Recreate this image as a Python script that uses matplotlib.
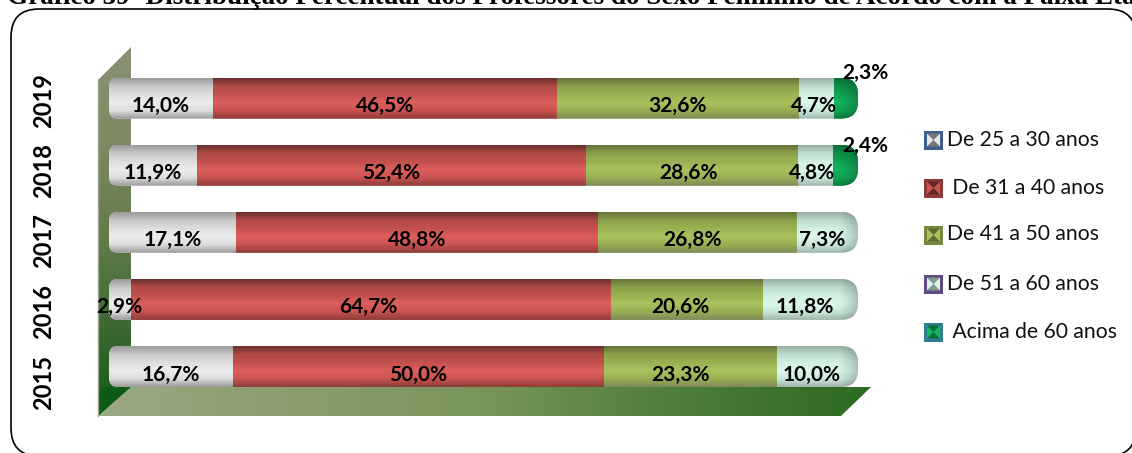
import numpy as np
import matplotlib
matplotlib.use('Agg')
import matplotlib.pyplot as plt
from matplotlib.colors import LinearSegmentedColormap
from matplotlib.patches import Polygon, FancyBboxPatch, Rectangle
from matplotlib.path import Path

title = 'Gráfico 39- Distribuição Percentual dos Professores do Sexo Feminino de Acordo com a Faixa Etária'
years = ['2015', '2016', '2017', '2018', '2019']
series_names = ['De 25 a 30 anos', ' De 31 a 40 anos', 'De 41 a 50 anos', 'De 51 a 60 anos', ' Acima de 60 anos']

age_25_30 = [16.7, 2.9, 17.1, 11.9, 14.0]
age_31_40 = [50.0, 64.7, 48.8, 52.4, 46.5]
age_41_50 = [23.3, 20.6, 26.8, 28.6, 32.6]
age_51_60 = [10.0, 11.8, 7.3, 4.8, 4.7]
age_60_up = [0, 0, 0, 2.4, 2.3]
series = [age_25_30, age_31_40, age_41_50, age_51_60, age_60_up]

# top to bottom colour stops of each 3d bar
bar_stops = [
    ['#999999', '#dcdcdc', '#ececec', '#dedede', '#c8c8c8', '#9a9a9a'],
    ['#8a3d3a', '#c9524f', '#dc5f5c', '#c2504d', '#b04a47', '#6a2f2d'],
    ['#7f8a5c', '#98ae52', '#a9c25f', '#9ab253', '#8ba04a', '#66723a'],
    ['#9fb3aa', '#c9e8da', '#dcf7ea', '#d3f0e3', '#bddccd', '#99ada3'],
    ['#0a7a3e', '#10a554', '#14b35e', '#10a554', '#0d9049', '#0a6f38'],
]
swatch_edge = ['#3d5f8f', '#8f3a38', '#76883c', '#5f4a86', '#2f7f90']
swatch_light = ['#e8e8e8', '#c9524f', '#a9c25f', '#d9f5e8', '#14b35e']
swatch_dark = ['#777777', '#5f2a28', '#5f6b36', '#7f9a8e', '#0a6f38']
legend_y = [140, 188, 235, 284, 332]

W, H = 1132, 453
fig = plt.figure(figsize=(W / 100, H / 100), dpi=100)
fig.patch.set_facecolor('white')

# back layer in pixels: frame, wall, floor, legend, title
bg = fig.add_axes([0, 0, 1, 1])
bg.set_xlim(0, W)
bg.set_ylim(H, 0)
bg.axis('off')

frame = FancyBboxPatch((11 + 28, 9 + 28), 1125 - 56, 447 - 56, boxstyle='round,pad=28,rounding_size=28',
                       fc='white', ec='black', lw=1.2, clip_on=True, zorder=-2)
bg.add_patch(frame)

wall = LinearSegmentedColormap.from_list('wall', ['#8a9176', '#7d8a62', '#647c4c', '#3f6a33', '#0f5a15'])
im = bg.imshow(np.linspace(0, 1, 256)[:, None], extent=(98, 131, 416, 47), cmap=wall, aspect='auto', zorder=1)
im.set_clip_path(Polygon([(98, 80), (131, 47), (131, 387), (98, 416)], transform=bg.transData))
floor = LinearSegmentedColormap.from_list('floor', ['#9aa884', '#8a9e6c', '#79955a', '#4f7d3c', '#2c6a22'])
im = bg.imshow(np.linspace(0, 1, 256)[None, :], extent=(98, 871, 416, 387), cmap=floor, aspect='auto', zorder=1)
im.set_clip_path(Polygon([(98, 416), (131, 387), (871, 387), (841, 416)], transform=bg.transData))
bg.add_patch(Polygon([(98, 416), (131, 387), (98, 387)], fc='#0f5a15', ec='none', zorder=2))
bg.plot([98, 98], [80, 416], color='#9aa48c', lw=1, zorder=3)
bg.set_xlim(0, W)
bg.set_ylim(H, 0)

bg.text(7, 3.5, title, family='Liberation Serif', weight='bold', fontsize=19.5, color='black', va='baseline', ha='left')

for i, name in enumerate(series_names):
    y = legend_y[i]
    x0, x1, y0, y1 = 924, 943, y - 9.5, y + 9.5
    bg.add_patch(Rectangle((x0, y0), 19, 19, fc=swatch_edge[i], ec='none'))
    a0, a1, b0, b1 = x0 + 3, x1 - 3, y0 + 3, y1 - 3
    cx, cy = (a0 + a1) / 2, (b0 + b1) / 2
    bg.add_patch(Polygon([(a0, b0), (a1, b0), (cx, cy)], fc=swatch_dark[i], ec='none'))
    bg.add_patch(Polygon([(a0, b1), (a1, b1), (cx, cy)], fc=swatch_dark[i], ec='none'))
    bg.add_patch(Polygon([(a0, b0), (a0, b1), (cx, cy)], fc=swatch_light[i], ec='none'))
    bg.add_patch(Polygon([(a1, b0), (a1, b1), (cx, cy)], fc=swatch_light[i], ec='none'))
    bg.text(947, y - 0.5, name, family='Lato', fontsize=15.2, color='#111111', va='center', ha='left')

for i, yr in enumerate(years):
    bg.text(44, 382 - 70.5 * i, yr, family='Lato', weight='bold', fontsize=17, rotation=90, va='center', ha='center', color='black')

# bars live in their own axes, 0-100 runs from 109 to 851 px, the round cap sticks out past 100 up to 858
row_px = 67.1
ax_top = 366.5 - 4.5 * row_px
ax_bot = 366.5 + 0.5 * row_px
ax = fig.add_axes([109 / W, 1 - ax_bot / H, 749 / W, (ax_bot - ax_top) / H])
ax.patch.set_alpha(0)
ax.axis('off')
bar_h = 0.61
x_per_px = 100 / 742
y_per_px = 1 / row_px
cap_end = 100 + 7 * x_per_px


def capsule(yc):
    # bar outline, small corners at the left and big ones at the right
    x0, x1, y0, y1 = 0, cap_end, yc - bar_h / 2, yc + bar_h / 2
    lx, ly = 9 * x_per_px, 9 * y_per_px
    rx, ry = 17 * x_per_px, 17 * y_per_px
    verts = [(x0 + lx, y0), (x1 - rx, y0), (x1, y0), (x1, y0 + ry), (x1, y1 - ry), (x1, y1), (x1 - rx, y1),
             (x0 + lx, y1), (x0, y1), (x0, y1 - ly), (x0, y0 + ly), (x0, y0), (x0 + lx, y0), (x0 + lx, y0)]
    codes = [Path.MOVETO, Path.LINETO, Path.CURVE3, Path.CURVE3, Path.LINETO, Path.CURVE3, Path.CURVE3,
             Path.LINETO, Path.CURVE3, Path.CURVE3, Path.LINETO, Path.CURVE3, Path.CURVE3, Path.CLOSEPOLY]
    return Path(verts, codes)


# small sideways shifts of labels, in px, (series, row)
nudge = {(2, 0): -10, (2, 1): -7, (2, 2): -5, (2, 3): -3, (2, 4): -1,
         (3, 0): -2, (3, 1): -2, (3, 2): -2, (3, 3): -3, (3, 4): -3,
         (1, 1): -2}
# the two small labels that float above the bar
top_label_dy = {3: 0.28, 4: 0.37}

for r in range(len(years)):
    vals = np.array([s[r] for s in series], dtype=float)
    total = vals.sum()
    left = 0.0
    clip = capsule(r)
    last = np.nonzero(vals)[0][-1]
    for k, v in enumerate(vals):
        if v == 0:
            continue
        w = v / total * 100
        right = cap_end if k == last else left + w
        bars = ax.barh(r, right - left, left=left, height=bar_h, color=bar_stops[k][2], lw=0)
        bars[0].set_clip_path(clip, ax.transData)
        cmap = LinearSegmentedColormap.from_list('b%d' % k, bar_stops[k])
        im = ax.imshow(np.linspace(1, 0, 128)[:, None], extent=(left, right, r - bar_h / 2, r + bar_h / 2),
                       cmap=cmap, aspect='auto', zorder=2)
        im.set_clip_path(clip, ax.transData)
        txt = f'{v:.1f}%'.replace('.', ',')
        if k == 4:
            lx = 101.9
            ly = r + top_label_dy[r]
        else:
            lx = (left + left + w) / 2 + nudge.get((k, r), 0) * x_per_px
            ly = r - 0.12
        ax.text(lx, ly, txt, family='Lato', weight='bold', fontsize=15, color='black',
                ha='center', va='center', zorder=5, clip_on=False)
        left += w
    # dark rim at the round end
    rim = np.zeros((1, 64, 4))
    rim[0, :, 3] = np.linspace(0, 0.38, 64) ** 1.5
    im = ax.imshow(rim, extent=(cap_end - 3, cap_end, r - bar_h / 2, r + bar_h / 2), aspect='auto', zorder=3)
    im.set_clip_path(clip, ax.transData)

ax.set_xlim(0, cap_end)
ax.set_ylim(-0.5, 4.5)

fig.savefig('out.png', dpi=100)
